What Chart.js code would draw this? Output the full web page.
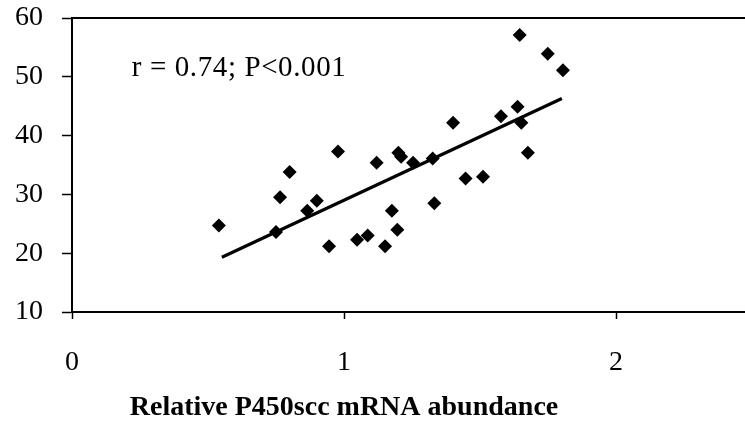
<!DOCTYPE html>
<html>
<head>
<meta charset="utf-8">
<script src="https://cdn.jsdelivr.net/npm/chart.js@4"></script>
<style>
  html, body { margin: 0; padding: 0; background: #fff; overflow: hidden; }
  #wrap { width: 760px; height: 435px; }
</style>
</head>
<body>
<div id="wrap"><canvas id="chart" width="760" height="435"></canvas></div>
<script>
// scatter: relative P450scc mRNA vs y value, with fitted line
const mrnaX = [0.54, 0.75, 0.765, 0.80, 0.865, 0.90, 0.945, 0.978, 1.048, 1.087,
  1.12, 1.151, 1.176, 1.196, 1.20, 1.21, 1.254, 1.326, 1.332, 1.401,
  1.447, 1.511, 1.577, 1.638, 1.652, 1.676, 1.646, 1.749, 1.805];
const valueY = [24.7, 23.6, 29.5, 33.8, 27.2, 28.9, 21.2, 37.3, 22.3, 23.0,
  35.4, 21.2, 27.2, 24.0, 37.1, 36.4, 35.4, 36.1, 28.5, 42.2,
  32.7, 33.0, 43.3, 44.9, 42.2, 37.1, 57.1, 53.9, 51.1];
const fitX = [0.551, 1.801];
const fitY = [19.3, 46.3];
const xTicks = [0, 1, 2];
const yTicks = [10, 20, 30, 40, 50, 60];
const statText = "r = 0.74; P<0.001";
const xTitle = "Relative P450scc mRNA abundance";

const serif = "'Liberation Serif', 'Times New Roman', serif";

const frame = {
  id: "frame",
  afterDraw(chart) {
    const { ctx, chartArea, scales } = chart;
    ctx.save();
    ctx.strokeStyle = "#000";
    ctx.lineWidth = 2;
    ctx.beginPath();
    ctx.moveTo(chartArea.left, chartArea.top);
    ctx.lineTo(chartArea.right, chartArea.top);
    ctx.stroke();
    ctx.fillStyle = "#000";
    ctx.textBaseline = "middle";
    ctx.font = "29px " + serif;
    ctx.letterSpacing = "0.6px";
    ctx.fillText(statText, scales.x.getPixelForValue(0.22), scales.y.getPixelForValue(51.5));
    ctx.letterSpacing = "0px";
    // axis title sits under x = 1, not under the middle of the axis
    ctx.font = "bold 28px " + serif;
    ctx.textAlign = "center";
    ctx.fillText(xTitle, scales.x.getPixelForValue(1.0), chart.height - 27);
    ctx.restore();
  },
};

new Chart(document.getElementById("chart"), {
  type: "scatter",
  data: {
    datasets: [
      {
        data: mrnaX.map((x, i) => ({ x, y: valueY[i] })),
        pointStyle: "rectRot",
        pointRadius: 7,
        backgroundColor: "#000",
        borderColor: "#000",
        borderWidth: 0,
      },
      {
        type: "line",
        data: fitX.map((x, i) => ({ x, y: fitY[i] })),
        borderColor: "#000",
        borderWidth: 3.2,
        pointRadius: 0,
        fill: false,
      },
    ],
  },
  options: {
    responsive: false,
    animation: false,
    layout: { padding: { top: 18, right: 8, left: 0, bottom: 0 } },
    plugins: { legend: { display: false }, tooltip: { enabled: false } },
    scales: {
      x: {
        type: "linear",
        min: 0,
        max: 2.5,
        afterBuildTicks: (s) => { s.ticks = xTicks.map((v) => ({ value: v })); },
        afterFit: (s) => { s.height = 123; },
        grid: { drawOnChartArea: false, tickLength: 7, tickColor: "#000", tickWidth: 1.5 },
        border: { color: "#000", width: 2 },
        ticks: { color: "#000", padding: 27, font: { family: serif, size: 28 } },
      },
      y: {
        min: 10,
        max: 60,
        afterBuildTicks: (s) => { s.ticks = yTicks.map((v) => ({ value: v })); },
        afterFit: (s) => { s.width = 72; s.paddingTop = 0; s.paddingBottom = 0; },
        grid: { drawOnChartArea: false, tickLength: 10, tickColor: "#000", tickWidth: 1.5 },
        border: { color: "#000", width: 2 },
        ticks: { color: "#000", padding: 19, font: { family: serif, size: 28 } },
      },
    },
  },
  plugins: [frame],
});
</script>
</body>
</html>
